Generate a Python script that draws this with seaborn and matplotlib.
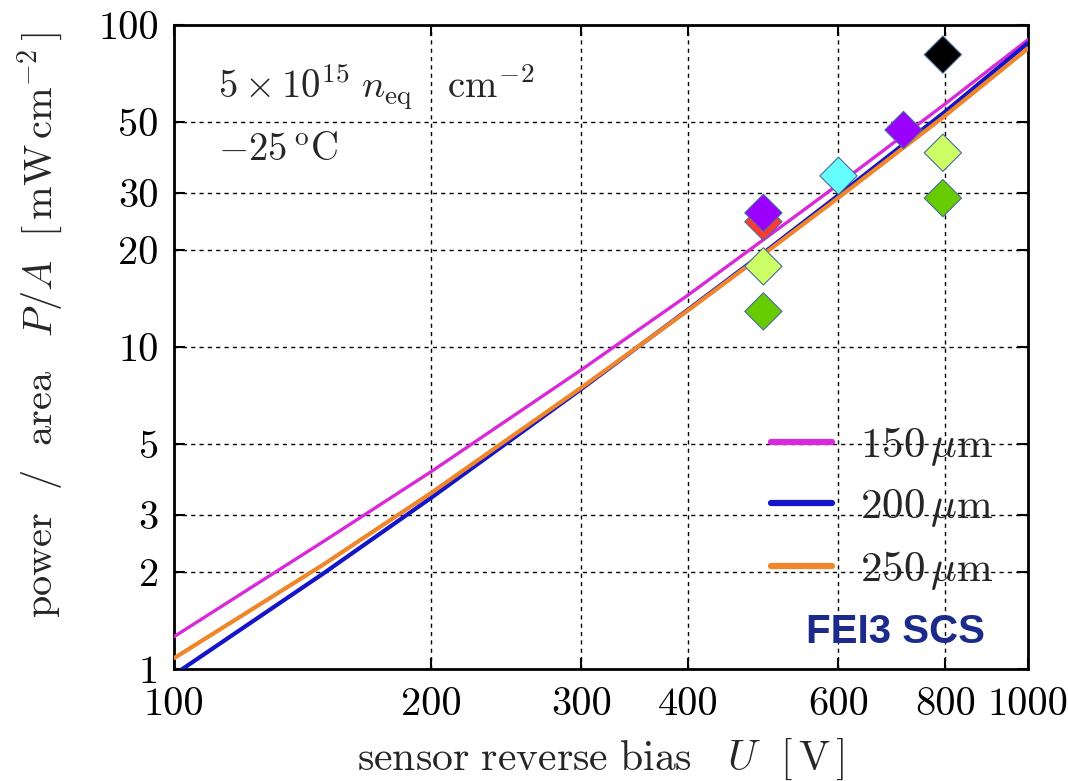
import numpy as np
import pandas as pd
import matplotlib
matplotlib.use("Agg")
import matplotlib.pyplot as plt
from matplotlib.ticker import FixedLocator, FixedFormatter, NullLocator
import seaborn as sns

# Bias voltage grid (V) and power per area (mW/cm^2) for each sensor thickness
bias_v = [100, 150, 200, 300, 400, 500, 600, 800, 1000]
power_150um = [1.26, 2.5, 4.1, 8.5, 14.5, 22.4, 32.0, 56.9, 90.0]
power_200um = [0.96, 1.99, 3.40, 7.41, 13.07, 20.4, 29.6, 53.8, 87.9]
power_250um = [1.08, 2.12, 3.52, 7.48, 13.0, 20.2, 29.1, 52.3, 84.5]
thickness_labels = [r"$150\,\mu\mathrm{m}$", r"$200\,\mu\mathrm{m}$", r"$250\,\mu\mathrm{m}$"]
line_colors = ["#d82ad8", "#1414c8", "#f0862a"]
line_widths = [2.4, 3.0, 3.0]

# Measured modules (bias V, power mW/cm^2, fill colour)
meas_bias = [490, 490, 490, 490, 600, 715, 795, 795, 795]
meas_power = [24.5, 26.1, 17.8, 12.9, 34.0, 47.2, 80.9, 40.1, 29.0]
meas_colors = ["#ff3b30", "#9b00ff", "#ccff66", "#66cc00", "#66ffff",
               "#9b00ff", "#000000", "#ccff66", "#66cc00"]

x_ticks = [100, 200, 300, 400, 600, 800, 1000]
y_ticks = [1, 2, 3, 5, 10, 20, 30, 50, 100]

sns.set_style("ticks")
plt.rcParams["font.family"] = ["cmr10", "DejaVu Serif"]
plt.rcParams["mathtext.fontset"] = "cm"
plt.rcParams["axes.unicode_minus"] = False

curves = pd.DataFrame({
    "bias": bias_v * 3,
    "power": power_150um + power_200um + power_250um,
    "thickness": [thickness_labels[0]] * len(bias_v)
                 + [thickness_labels[1]] * len(bias_v)
                 + [thickness_labels[2]] * len(bias_v),
})
points = pd.DataFrame({"bias": meas_bias, "power": meas_power,
                       "id": [str(i) for i in range(len(meas_bias))]})

fig = plt.figure(figsize=(10.68, 7.81), dpi=100)
ax = fig.add_axes([0.1629, 0.1434, 0.7996, 0.8246])

sns.lineplot(data=curves, x="bias", y="power", hue="thickness",
             hue_order=thickness_labels, palette=line_colors,
             linewidth=2.4, ax=ax, zorder=3)
for ln, lw in zip(ax.get_lines(), line_widths):
    ln.set_linewidth(lw)
sns.scatterplot(data=points, x="bias", y="power", hue="id",
                palette=meas_colors, marker="D", s=360,
                edgecolor="#4a6a9a", linewidth=0.8, legend=False,
                ax=ax, zorder=4)

ax.set_xscale("log")
ax.set_yscale("log")
ax.set_xlim(100, 1000)
ax.set_ylim(1, 100)

ax.xaxis.set_major_locator(FixedLocator(x_ticks))
ax.xaxis.set_major_formatter(FixedFormatter([str(v) for v in x_ticks]))
ax.xaxis.set_minor_locator(NullLocator())
ax.yaxis.set_major_locator(FixedLocator(y_ticks))
ax.yaxis.set_major_formatter(FixedFormatter([str(v) for v in y_ticks]))
ax.yaxis.set_minor_locator(NullLocator())

ax.tick_params(axis="both", which="major", direction="in", length=8,
               width=1.5, labelsize=29, top=True, right=True, colors="black")
ax.tick_params(axis="x", pad=13)
ax.tick_params(axis="y", pad=11)

ax.grid(True, which="major", color="black", linestyle=(0, (3, 3)),
        linewidth=1.0)
for sp in ax.spines.values():
    sp.set_linewidth(2.0)
    sp.set_color("black")

ax.set_xlabel(r"$\mathrm{sensor\ reverse\ bias}\quad U\ \ [\,\mathrm{V}\,]$",
              fontsize=30)
ax.set_ylabel(r"$\mathrm{power\ \ /\ \ area}\quad P/A\ \ [\,\mathrm{mW\,cm}^{-2}\,]$",
              fontsize=29)
ax.xaxis.set_label_coords(0.5, -0.105)
ax.yaxis.set_label_coords(-0.128, 0.534)

ax.text(0.052, 0.905, r"$5\times10^{15}\;n_{\mathrm{eq}}\quad\mathrm{cm}^{-2}$",
        transform=ax.transAxes, fontsize=28, va="center", ha="left")
ax.text(0.052, 0.805, r"$-25\,^{\mathrm{o}}\mathrm{C}$",
        transform=ax.transAxes, fontsize=28, va="center", ha="left")
ax.text(0.845, 0.057, "FEI3 SCS", transform=ax.transAxes, fontsize=29,
        fontweight="bold", family=["Liberation Sans", "DejaVu Sans"],
        color="#1c2a8c", ha="center", va="center")

leg = ax.legend(loc="lower right", bbox_to_anchor=(0.995, 0.073),
                frameon=False, fontsize=31, handlelength=1.4,
                handletextpad=0.65, labelspacing=0.45, borderaxespad=0.3)
for ln in leg.get_lines():
    ln.set_linewidth(4.5)

fig.savefig("out.png", dpi=100)
